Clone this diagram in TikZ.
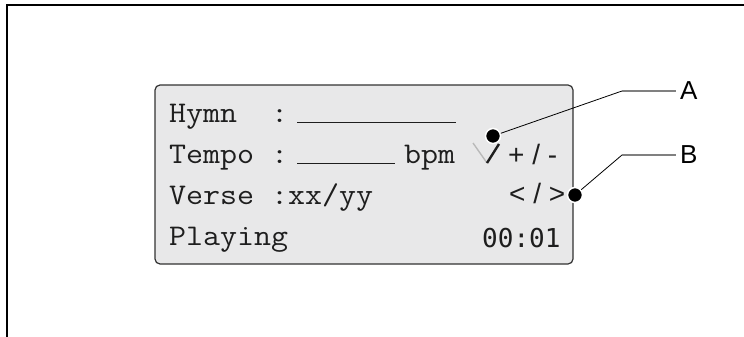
\documentclass[tikz,border=0pt]{standalone}
\usepackage{fontspec}
\usepackage{tikz}
\newfontfamily\lcdfont[FakeStretch=1.1]{Latin Modern Mono}
\newfontfamily\keyfont{Liberation Sans}
\newfontfamily\clockfont{DejaVu Sans Mono}

\begin{document}
\begin{tikzpicture}[x=1pt, y=-1pt,
        lcd/.style={font=\lcdfont\fontsize{30}{30}\selectfont, anchor=base west, inner sep=0pt, text=lcdtext},
        keys/.style={font=\keyfont\fontsize{28}{28}\selectfont, anchor=base west, inner sep=0pt, text=lcdtext},
        tag/.style={font=\keyfont\fontsize{26}{26}\selectfont, anchor=west, inner sep=4pt},
        dot/.style={circle, fill=black, draw=white, line width=1.5pt, inner sep=0pt, minimum size=15pt}]
        % Define colors
        \definecolor{lcdbg}{RGB}{232,232,233}
        \definecolor{lcdedge}{RGB}{50,50,50}
        \definecolor{lcdtext}{RGB}{30,30,30}
        \definecolor{leadgray}{RGB}{128,128,128}

        \useasboundingbox (0,0) rectangle (744,337);

        % Frame - top and left only
        \draw[line width=1.8pt] (7,337) -- (7,5) -- (744,5);

        % Display panel
        \node[draw=lcdedge, fill=lcdbg, line width=1.2pt, rounded corners=5pt,
              minimum width=418pt, minimum height=179pt, inner sep=0pt] (lcd) at (364,174.5) {};

        % Row 1
        \node[lcd] (hymnTxt) at (169,122) {Hymn\ \ :};
        \draw[lcdtext, line width=0.8pt] (297,122) -- (456,122);

        % Row 2
        \node[lcd] (tempoTxt) at (169,163) {Tempo :};
        \draw[lcdtext, line width=0.8pt] (297,163) -- (395,163);
        \node[lcd] (bpmTxt) at (404,163) {bpm};
        \draw[gray!55, line width=1.4pt] (473,143) -- (487,163);
        \draw[lcdtext, line width=2.4pt] (487,163) -- (499,144);
        \node[keys] (tempoKeys) at (508,164) {+ / -};

        % Row 3
        \node[lcd] (verseTxt) at (169,204) {Verse :xx/yy};
        \node[keys] (verseKeys) at (509,203) {< / >};

        % Row 4
        \node[lcd] (playTxt) at (169,245) {Playing};
        \node[font=\clockfont\fontsize{26}{26}\selectfont, anchor=base west, inner sep=0pt, text=lcdtext] (clockTxt) at (482,247) {00:01};

        % Callouts
        \coordinate (kneeA) at (622,91);
        \coordinate (kneeB) at (622,155);
        \node[tag] (labA) at (676,91) {A};
        \node[tag] (labB) at (676,155) {B};
        \node[dot] (dotA) at (493,136) {};
        \node[dot] (dotB) at (575,195) {};
        \draw[line width=0.8pt] (dotA) -- (kneeA);
        \draw[line width=0.8pt] (dotB) -- (kneeB);
        \draw[leadgray, line width=1.2pt] (kneeA) -- (labA.west);
        \draw[leadgray, line width=1.2pt] (kneeB) -- (labB.west);
    \end{tikzpicture}
\end{document}
